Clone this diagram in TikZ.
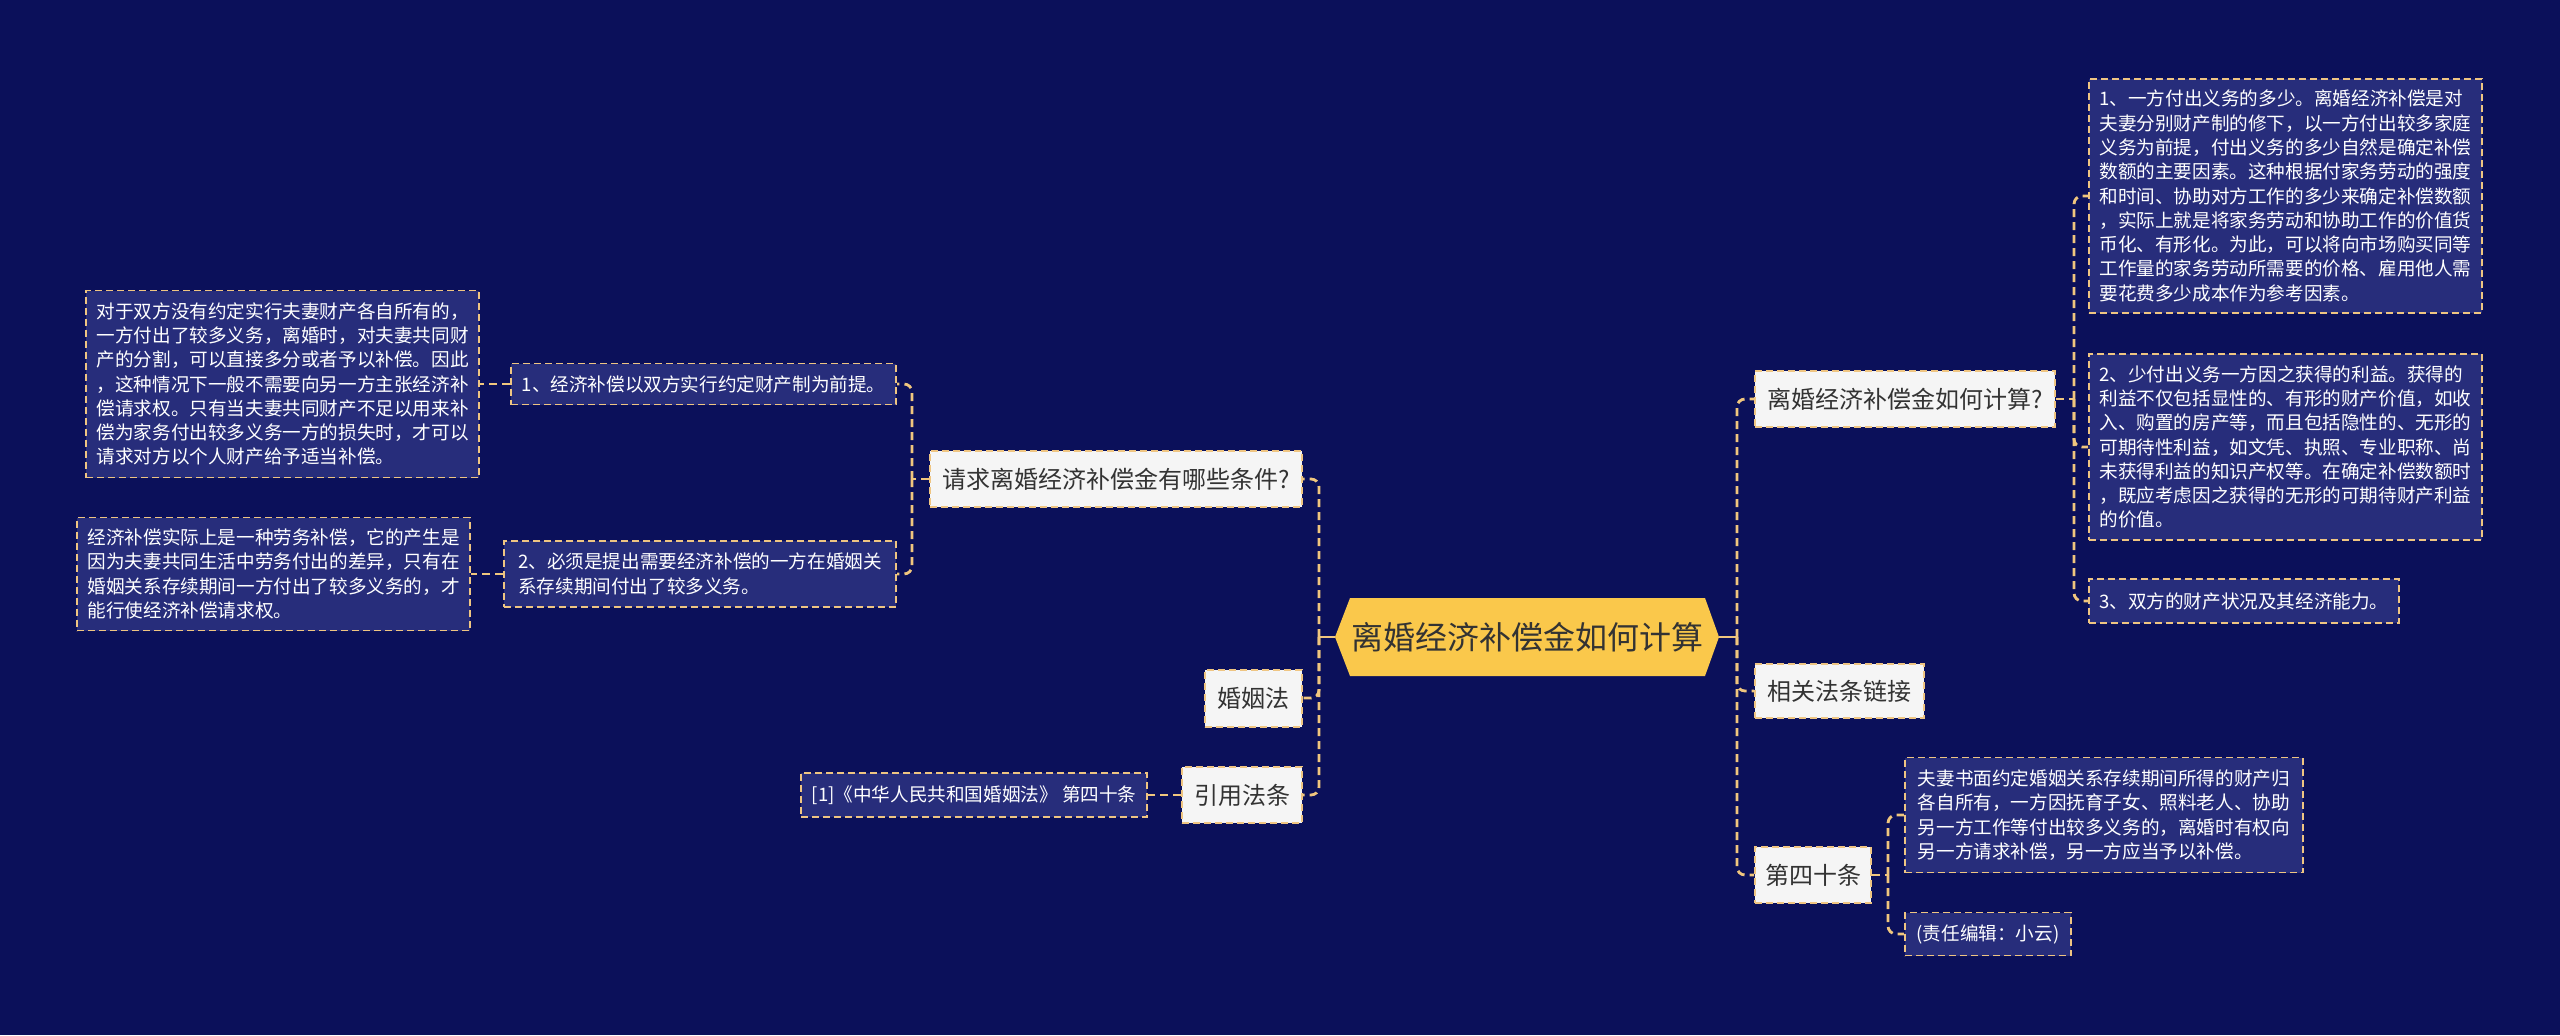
\documentclass[tikz,border=0pt]{standalone}
\usepackage{fontspec}
\newfontfamily\cjk{Noto Sans CJK SC}
\usetikzlibrary{calc}
\definecolor{bgc}{HTML}{0B105A}
\definecolor{boxc}{HTML}{272D7B}
\definecolor{lightc}{HTML}{F5F5F5}
\definecolor{bordc}{HTML}{EFC582}
\definecolor{linec}{HTML}{F0C67E}
\definecolor{hexc}{HTML}{FAC84B}
\definecolor{txtc}{HTML}{333333}
\newcommand\myDfont{\cjk\fontsize{9.3}{12.15}\selectfont}
\newcommand\myMfont{\cjk\fontsize{12}{14}\selectfont}
\newcommand\myBfont{\cjk\fontsize{16}{19}\selectfont}
\begin{document}
\begin{tikzpicture}[x=0.5pt,y=-0.5pt,
  lnode/.style={draw=bordc, line width=1pt, dash pattern=on 3.5pt off 2pt, fill=lightc, text=txtc, font=\myMfont, inner sep=0pt},
  dnode/.style={draw=bordc, line width=0.9pt, dash pattern=on 3.5pt off 2pt, fill=boxc, text=white, font=\myDfont, align=left, inner sep=0pt},
  conn/.style={draw=linec, line width=1.4pt, dash pattern=on 4pt off 2.5pt, rounded corners=4pt},
  stub/.style={draw=linec, line width=1.4pt}]
\fill[bgc] (0,0) rectangle (2560,1035);
\useasboundingbox (0,0) rectangle (2560,1035);

% central
\fill[hexc] (1335,637) -- (1350,598) -- (1705,598) -- (1719,637) -- (1705,676) -- (1350,676) -- cycle;
\node[font=\myBfont, text=txtc, minimum width=192pt, minimum height=39pt, inner sep=0pt] (hex) at (1527,637) {离婚经济补偿金如何计算};
\coordinate (rt) at (1737,637);
\coordinate (lt) at (1319,637);

% right level 1
\node[lnode, anchor=west, minimum width=150pt, minimum height=28pt] (R1) at (1754,399) {离婚经济补偿金如何计算?};
\node[lnode, anchor=west, minimum width=84.5pt, minimum height=27pt] (R2) at (1754,691) {相关法条链接};
\node[lnode, anchor=west, minimum width=58pt, minimum height=28pt] (R3) at (1754,875) {第四十条};

% right level 2
\node[dnode, anchor=west, minimum width=196.5pt, minimum height=117pt] (R1a) at (2088,196) {1、一方付出义务的多少。离婚经济补偿是对\\夫妻分别财产制的修下，以一方付出较多家庭\\义务为前提，付出义务的多少自然是确定补偿\\数额的主要因素。这种根据付家务劳动的强度\\和时间、协助对方工作的多少来确定补偿数额\\，实际上就是将家务劳动和协助工作的价值货\\币化、有形化。为此，可以将向市场购买同等\\工作量的家务劳动所需要的价格、雇用他人需\\要花费多少成本作为参考因素。};
\node[dnode, anchor=west, minimum width=196.5pt, minimum height=93pt] (R1b) at (2088,447) {2、少付出义务一方因之获得的利益。获得的\\利益不仅包括显性的、有形的财产价值，如收\\入、购置的房产等，而且包括隐性的、无形的\\可期待性利益，如文凭、执照、专业职称、尚\\未获得利益的知识产权等。在确定补偿数额时\\，既应考虑因之获得的无形的可期待财产利益\\的价值。};
\node[dnode, anchor=west, minimum width=155pt, minimum height=22pt] (R1c) at (2088,601) {3、双方的财产状况及其经济能力。};
\node[dnode, anchor=west, minimum width=199pt, minimum height=57.5pt] (R3a) at (1904,815) {夫妻书面约定婚姻关系存续期间所得的财产归\\各自所有，一方因抚育子女、照料老人、协助\\另一方工作等付出较多义务的，离婚时有权向\\另一方请求补偿，另一方应当予以补偿。};
\node[dnode, anchor=west, minimum width=83pt, minimum height=21.5pt] (R3b) at (1904,934) {(责任编辑：小云)};

% left level 1
\node[lnode, anchor=east, minimum width=186pt, minimum height=28pt] (L1) at (1303,479) {请求离婚经济补偿金有哪些条件?};
\node[lnode, anchor=east, minimum width=48.5pt, minimum height=28.5pt] (L2) at (1303,698) {婚姻法};
\node[lnode, anchor=east, minimum width=60pt, minimum height=28pt] (L3) at (1303,795) {引用法条};

% left level 2
\node[dnode, anchor=east, minimum width=192.5pt, minimum height=20.5pt] (L1a) at (897,384) {1、经济补偿以双方实行约定财产制为前提。};
\node[dnode, anchor=east, minimum width=196pt, minimum height=33pt] (L1b) at (897,574) {2、必须是提出需要经济补偿的一方在婚姻关\\系存续期间付出了较多义务。};
\node[dnode, anchor=east, minimum width=173pt, minimum height=22pt] (L3a) at (1148,795) {[1]《中华人民共和国婚姻法》 第四十条};

% left level 3
\node[dnode, anchor=east, minimum width=196.5pt, minimum height=93.5pt] (L1a1) at (480,384) {对于双方没有约定实行夫妻财产各自所有的，\\一方付出了较多义务，离婚时，对夫妻共同财\\产的分割，可以直接多分或者予以补偿。因此\\，这种情况下一般不需要向另一方主张经济补\\偿请求权。只有当夫妻共同财产不足以用来补\\偿为家务付出较多义务一方的损失时，才可以\\请求对方以个人财产给予适当补偿。};
\node[dnode, anchor=east, minimum width=196.5pt, minimum height=56.5pt] (L1b1) at (471,574) {经济补偿实际上是一种劳务补偿，它的产生是\\因为夫妻共同生活中劳务付出的差异，只有在\\婚姻关系存续期间一方付出了较多义务的，才\\能行使经济补偿请求权。};

% connectors: centre
\draw[stub] (hex.east) -- (rt);
\draw[stub] (hex.west) -- (lt);
\draw[conn] (rt) |- (R1.west);
\draw[conn] (rt) |- (R2.west);
\draw[conn] (rt) |- (R3.west);
\draw[conn] (lt) |- (L1.east);
\draw[conn] (lt) |- (L2.east);
\draw[conn] (lt) |- (L3.east);

% R1 children
\coordinate (r1j) at ($(R1.east)+(18,0)$);
\draw[conn] (R1.east) -- (r1j);
\draw[conn] (r1j) |- (R1a.west);
\draw[conn] (r1j) |- (R1b.west);
\draw[conn] (r1j) |- (R1c.west);

% R3 children
\coordinate (r3j) at ($(R3.east)+(16,0)$);
\draw[conn] (R3.east) -- (r3j);
\draw[conn] (r3j) |- (R3a.west);
\draw[conn] (r3j) |- (R3b.west);

% L1 children
\coordinate (l1j) at ($(L1.west)+(-17,0)$);
\draw[conn] (L1.west) -- (l1j);
\draw[conn] (l1j) |- (L1a.east);
\draw[conn] (l1j) |- (L1b.east);

\draw[conn] (L1a.west) -- (L1a1.east);
\draw[conn] (L1b.west) -- (L1b1.east);
\draw[conn] (L3.west) -- (L3a.east);
\end{tikzpicture}
\end{document}
